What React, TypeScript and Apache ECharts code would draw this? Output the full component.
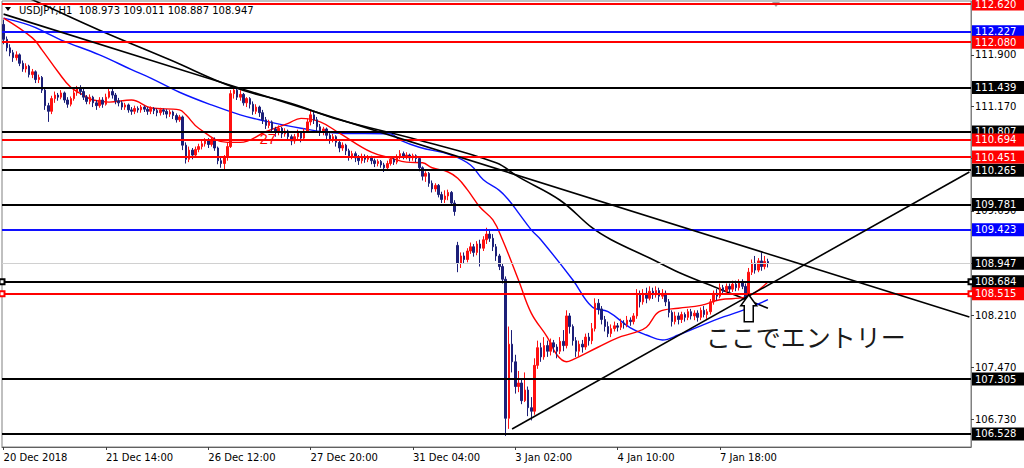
import React, { useEffect, useRef } from "react";
import * as echarts from "echarts";

type Candle = [number, number, number, number]; // open, close, low, high

const SYMBOL_TITLE = "USDJPY,H1  108.973 109.011 108.887 108.947";
const X_TICK_LABELS = ["20 Dec 2018", "21 Dec 14:00", "26 Dec 12:00", "27 Dec 20:00", "31 Dec 04:00", "3 Jan 02:00", "4 Jan 10:00", "7 Jan 18:00"];
const BARS_PER_LABEL = 32;
const TOTAL_SLOTS = 303;
const Y_MIN = 106.343;
const Y_MAX = 112.663;
const Y_TICKS = [111.9, 111.17, 110.43, 109.69, 108.95, 108.21, 107.47, 106.73];

const RED_LEVELS = [112.62, 112.08, 110.694, 110.451];
const BLUE_LEVELS = [112.227, 109.423];
const BLACK_LEVELS = [111.439, 110.807, 110.265, 109.781, 107.305, 106.528];
const SELECTED_BLACK_LEVELS = [108.684];
const SELECTED_RED_LEVELS = [108.515];
const BID = 108.947;

const ENTRY_TEXT = "ここでエントリー";
const ENTRY_POINT: [number, number] = [233, 108.5];
const NOTE_27 = "27";
const NOTE_27_POINT: [number, number] = [80, 110.71];

const BLOCK_20DEC: Candle[] = [
  [112.33,112.12,112.05,112.40],[112.12,112.00,111.95,112.16],[112.00,111.93,111.88,112.05],[111.93,111.86,111.80,111.97],
  [111.86,111.90,111.82,111.95],[111.90,111.78,111.74,111.92],[111.78,111.70,111.66,111.82],[111.70,111.74,111.65,111.78],
  [111.74,111.62,111.58,111.76],[111.62,111.66,111.57,111.70],[111.66,111.55,111.50,111.68],[111.55,111.58,111.50,111.62],
  [111.58,111.40,111.36,111.60],[111.40,111.18,111.12,111.42],[111.18,111.10,110.95,111.22],[111.10,111.28,111.06,111.32],
  [111.28,111.33,111.22,111.38],[111.33,111.30,111.25,111.36],[111.30,111.36,111.27,111.40],[111.36,111.26,111.22,111.38],
  [111.26,111.20,111.15,111.30],[111.20,111.28,111.17,111.31],[111.28,111.36,111.25,111.40],[111.36,111.42,111.32,111.46],
  [111.42,111.38,111.33,111.47],[111.38,111.30,111.26,111.42],[111.30,111.24,111.20,111.33],[111.24,111.30,111.20,111.34],
  [111.30,111.22,111.16,111.32],[111.22,111.18,111.12,111.26],[111.18,111.26,111.15,111.30],[111.26,111.20,111.15,111.30],
];
const BLOCK_21DEC: Candle[] = [
  [111.20,111.30,111.18,111.35],[111.30,111.38,111.28,111.44],[111.38,111.33,111.28,111.42],[111.33,111.25,111.20,111.36],
  [111.25,111.22,111.17,111.29],[111.22,111.16,111.12,111.25],[111.16,111.19,111.12,111.22],[111.19,111.12,111.08,111.21],
  [111.12,111.10,111.05,111.16],[111.10,111.14,111.06,111.18],[111.14,111.12,111.08,111.17],[111.12,111.16,111.08,111.19],
  [111.16,111.13,111.09,111.18],[111.13,111.10,111.05,111.16],[111.10,111.14,111.06,111.17],[111.14,111.11,111.06,111.16],
  [111.11,111.08,111.03,111.14],[111.08,111.12,111.04,111.15],[111.12,111.10,111.05,111.14],[111.10,111.06,111.00,111.13],
  [111.06,111.09,111.02,111.12],[111.09,111.04,110.99,111.11],[111.04,110.98,110.94,111.07],[110.98,111.02,110.95,111.05],
  [111.02,110.62,110.55,111.04],[110.62,110.42,110.36,110.66],[110.42,110.55,110.38,110.60],[110.55,110.48,110.42,110.58],
  [110.48,110.56,110.45,110.60],[110.56,110.60,110.52,110.64],[110.60,110.64,110.56,110.68],[110.64,110.68,110.60,110.72],
];
const BLOCK_26DEC: Candle[] = [
  [110.68,110.63,110.58,110.72],[110.63,110.70,110.60,110.74],[110.70,110.58,110.54,110.73],[110.58,110.40,110.35,110.60],
  [110.40,110.36,110.30,110.44],[110.36,110.45,110.28,110.48],[110.45,110.60,110.40,110.65],[110.60,111.35,110.58,111.40],
  [111.35,111.40,111.28,111.45],[111.40,111.30,111.26,111.44],[111.30,111.34,111.25,111.40],[111.34,111.22,111.18,111.36],
  [111.22,111.28,111.16,111.30],[111.28,111.20,111.14,111.30],[111.20,111.10,111.05,111.24],[111.10,111.16,111.06,111.20],
  [111.16,111.08,111.02,111.18],[111.08,110.98,110.92,111.12],[110.98,110.90,110.85,111.02],[110.90,110.95,110.86,110.98],
  [110.95,110.85,110.80,110.97],[110.85,110.80,110.74,110.88],[110.80,110.86,110.76,110.90],[110.86,110.78,110.72,110.88],
  [110.78,110.82,110.74,110.86],[110.82,110.74,110.70,110.84],[110.74,110.68,110.62,110.77],[110.68,110.74,110.64,110.78],
  [110.74,110.80,110.70,110.84],[110.80,110.72,110.66,110.82],[110.72,110.82,110.68,110.86],[110.82,110.95,110.80,111.00],
];
const BLOCK_27DEC: Candle[] = [
  [110.95,111.05,110.90,111.12],[111.05,110.98,110.92,111.10],[110.98,110.88,110.82,111.02],[110.88,110.80,110.75,110.92],
  [110.80,110.85,110.76,110.88],[110.85,110.76,110.70,110.87],[110.76,110.70,110.64,110.79],[110.70,110.74,110.66,110.78],
  [110.74,110.66,110.60,110.76],[110.66,110.58,110.52,110.70],[110.58,110.62,110.54,110.66],[110.62,110.54,110.48,110.64],
  [110.54,110.46,110.40,110.57],[110.46,110.50,110.42,110.54],[110.50,110.44,110.38,110.53],[110.44,110.40,110.34,110.48],
  [110.40,110.46,110.36,110.50],[110.46,110.42,110.37,110.49],[110.42,110.44,110.38,110.48],[110.44,110.40,110.35,110.47],
  [110.40,110.36,110.31,110.43],[110.36,110.39,110.32,110.42],[110.39,110.34,110.30,110.41],[110.34,110.30,110.24,110.37],
  [110.30,110.36,110.27,110.40],[110.36,110.42,110.33,110.46],[110.42,110.38,110.34,110.45],[110.38,110.45,110.35,110.49],
  [110.45,110.50,110.42,110.55],[110.50,110.46,110.42,110.53],[110.46,110.48,110.42,110.52],[110.48,110.44,110.39,110.50],
];
const BLOCK_31DEC: Candle[] = [
  [110.44,110.47,110.40,110.50],[110.47,110.43,110.38,110.49],[110.43,110.30,110.25,110.45],[110.30,110.18,110.12,110.32],
  [110.18,110.22,110.10,110.25],[110.22,110.08,110.03,110.24],[110.08,110.00,109.95,110.12],[110.00,110.05,109.96,110.08],
  [110.05,109.92,109.88,110.07],[109.92,109.85,109.80,109.96],[109.85,109.90,109.80,109.98],[109.90,109.95,109.84,109.99],
  [109.95,109.80,109.76,109.97],[109.80,109.68,109.62,109.84],[109.20,108.95,108.82,109.25],[108.95,109.05,108.88,109.10],
  [109.05,109.00,108.94,109.10],[109.00,109.12,108.96,109.16],[109.12,109.18,109.08,109.24],[109.18,109.10,109.04,109.22],
  [109.10,109.22,109.06,109.26],[109.22,109.16,108.90,109.28],[109.16,109.28,109.12,109.33],[109.28,109.36,109.22,109.45],
  [109.36,109.30,109.25,109.42],[109.30,109.18,109.12,109.36],[109.18,109.05,108.98,109.22],[109.05,108.90,108.85,109.08],
  [108.90,108.72,108.66,108.94],[108.72,106.75,106.50,108.76],[106.75,107.80,106.60,108.05],[107.80,107.55,107.40,108.00],
];
const BLOCK_3JAN: Candle[] = [
  [107.55,107.20,107.10,107.65],[107.20,107.25,107.12,107.42],[107.25,107.00,106.95,107.30],[107.00,107.15,106.98,107.40],
  [107.15,106.90,106.78,107.20],[106.90,106.85,106.72,107.05],[106.85,107.50,106.80,107.60],[107.50,107.75,107.45,107.85],
  [107.75,107.62,107.55,107.82],[107.62,107.78,107.58,107.90],[107.78,107.70,107.62,107.85],[107.70,107.82,107.64,107.88],
  [107.82,107.76,107.68,107.86],[107.76,107.70,107.60,107.80],[107.70,107.84,107.66,107.90],[107.84,107.78,107.70,108.00],
  [107.78,108.20,107.74,108.28],[108.20,108.05,107.95,108.24],[108.05,107.85,107.78,108.08],[107.85,107.70,107.62,107.90],
  [107.70,107.80,107.62,107.85],[107.80,107.76,107.68,107.86],[107.76,107.90,107.72,107.95],[107.90,107.85,107.78,107.96],
  [107.85,108.02,107.80,108.10],[108.02,108.38,107.98,108.45],[108.38,108.30,108.22,108.44],[108.30,108.15,108.08,108.34],
  [108.15,108.05,107.98,108.20],[108.05,107.95,107.90,108.12],[107.95,108.02,107.90,108.08],[108.02,108.06,107.98,108.12],
];
const BLOCK_4JAN: Candle[] = [
  [108.06,108.04,107.98,108.10],[108.04,108.10,108.00,108.16],[108.10,108.08,108.02,108.14],[108.08,108.14,108.04,108.20],
  [108.14,108.12,108.06,108.18],[108.12,108.20,108.08,108.24],[108.20,108.50,108.16,108.58],[108.50,108.40,108.32,108.56],
  [108.40,108.52,108.36,108.58],[108.52,108.45,108.38,108.60],[108.45,108.55,108.42,108.62],[108.55,108.50,108.44,108.60],
  [108.50,108.56,108.46,108.62],[108.56,108.48,108.40,108.60],[108.48,108.52,108.44,108.58],[108.52,108.40,108.34,108.56],
  [108.40,108.25,108.18,108.44],[108.25,108.12,108.05,108.28],[108.12,108.20,108.08,108.26],[108.20,108.15,108.08,108.25],
  [108.15,108.22,108.10,108.26],[108.22,108.18,108.12,108.25],[108.18,108.26,108.14,108.30],[108.26,108.20,108.15,108.30],
  [108.20,108.24,108.14,108.28],[108.24,108.18,108.12,108.28],[108.18,108.28,108.14,108.32],[108.28,108.22,108.18,108.34],
  [108.22,108.26,108.16,108.30],[108.26,108.40,108.22,108.44],[108.40,108.52,108.36,108.56],[108.52,108.48,108.42,108.58],
];
const BLOCK_7JAN: Candle[] = [
  [108.48,108.60,108.45,108.66],[108.60,108.55,108.50,108.64],[108.55,108.62,108.50,108.66],[108.62,108.58,108.52,108.66],
  [108.58,108.65,108.54,108.70],[108.65,108.60,108.55,108.70],[108.60,108.68,108.56,108.72],[108.68,108.62,108.58,108.72],
  [108.62,108.42,108.38,108.66],[108.42,108.82,108.40,108.88],[108.82,108.95,108.78,109.00],[108.95,108.85,108.80,109.05],
  [108.85,108.98,108.82,109.02],[108.98,108.90,108.84,109.10],[108.90,108.973,108.86,109.05],[108.973,108.947,108.887,109.011],
];

// moving averages, sampled points [barIndex, price]
const RED_MA: [number, number][] = [
  [0,112.42],[9,112.14],[12,111.97],[17,111.66],[21,111.44],[25,111.33],[28,111.26],[33,111.23],[40,111.26],[46,111.15],
  [55,111.12],[57,111.05],[61,110.86],[70,110.66],[74,110.66],[82,110.81],[89,110.93],[93,111.0],[99,110.95],[105,110.79],
  [115,110.52],[121,110.44],[126,110.38],[131,110.37],[134,110.30],[139,110.24],[142,110.15],[145,109.99],[149,109.74],
  [153,109.56],[156,109.28],[161,108.71],[165,108.24],[170,107.90],[173,107.65],[176,107.55],[178,107.58],[186,107.76],
  [192,107.89],[197,107.96],[201,108.04],[205,108.26],[211,108.31],[218,108.35],[224,108.43],[232,108.47],[239,108.68],
];
const BLUE_MA: [number, number][] = [
  [0,112.42],[8,112.32],[13,112.22],[18,112.11],[30,111.90],[40,111.69],[46,111.57],[55,111.37],[65,111.19],[74,111.05],
  [80,110.98],[93,110.86],[105,110.79],[121,110.78],[124,110.69],[130,110.59],[140,110.48],[146,110.34],[150,110.13],
  [155,109.98],[158,109.84],[161,109.66],[165,109.42],[168,109.28],[178,108.71],[184,108.33],[189,108.26],[196,108.03],
  [201,107.93],[206,107.86],[211,107.93],[218,108.06],[224,108.17],[230,108.26],[239,108.43],
];
const BLACK_MA: [number, number][] = [
  [0,112.85],[9,112.68],[30,112.25],[52,111.83],[72,111.44],[90,111.21],[105,110.98],[130,110.69],[154,110.37],[161,110.17],
  [174,109.84],[184,109.45],[190,109.28],[202,109.02],[211,108.82],[224,108.58],[239,108.31],
];
const DOWN_TRENDLINE: [number, number][] = [[0, 112.477], [302, 108.185]];
const UP_TRENDLINE: [number, number][] = [[159, 106.598], [302, 110.24]];

const CANDLES: Candle[] = [
  ...BLOCK_20DEC, ...BLOCK_21DEC, ...BLOCK_26DEC, ...BLOCK_27DEC,
  ...BLOCK_31DEC, ...BLOCK_3JAN, ...BLOCK_4JAN, ...BLOCK_7JAN,
];
const CATEGORIES = Array.from({ length: TOTAL_SLOTS }, (_, i) => String(i));

const FONT = "DejaVu Sans";
const BULL = "#ff1010";
const BEAR = "#1c1f78";

function levelItem(value: number, boxColor: string, lineColor: string, lineWidth = 2) {
  return {
    yAxis: value,
    lineStyle: { color: lineColor, width: lineWidth, type: "solid" },
    label: {
      show: true,
      position: "end",
      distance: 1,
      formatter: value.toFixed(3),
      color: "#ffffff",
      backgroundColor: boxColor,
      padding: [1, 12, 1, 3],
      fontFamily: FONT,
      fontSize: 10,
      lineHeight: 11,
    },
  };
}

export default function App() {
  const ref = useRef<HTMLDivElement>(null);
  useEffect(() => {
    if (!ref.current) return;
    const chart = echarts.init(ref.current, null, { renderer: "svg" });
    const levelData = [
      ...BLACK_LEVELS.map((v) => levelItem(v, "#000000", "#000000")),
      ...BLUE_LEVELS.map((v) => levelItem(v, "#0000ff", "#1010ff")),
      ...RED_LEVELS.map((v) => levelItem(v, "#ff0000", "#ff0000")),
      levelItem(BID, "#000000", "#d0d0d0", 1),
    ];
    const selectedData = [
      ...SELECTED_BLACK_LEVELS.map((v) => levelItem(v, "#000000", "#000000")),
      ...SELECTED_RED_LEVELS.map((v) => levelItem(v, "#ff0000", "#ff0000")),
    ];
    const option: any = {
      animation: false,
      backgroundColor: "#ffffff",
      grid: { left: 2, right: 53, top: 1, bottom: 21, show: true, borderColor: "#808080", borderWidth: 1, backgroundColor: "#ffffff" },
      xAxis: {
        type: "category",
        data: CATEGORIES,
        boundaryGap: true,
        axisLine: { show: true, lineStyle: { color: "#606060", width: 1 } },
        axisTick: {
          show: true,
          alignWithLabel: true,
          length: 3,
          lineStyle: { color: "#404040" },
          interval: (i: number) => i % BARS_PER_LABEL === 0 && i / BARS_PER_LABEL < X_TICK_LABELS.length,
        },
        axisLabel: {
          show: true,
          interval: (i: number) => i % BARS_PER_LABEL === 0 && i / BARS_PER_LABEL < X_TICK_LABELS.length,
          formatter: (_v: string, i: number) => X_TICK_LABELS[i / BARS_PER_LABEL] ?? "",
          align: "left",
          margin: 5,
          color: "#000000",
          fontFamily: FONT,
          fontSize: 10,
        },
        splitLine: { show: false },
      },
      yAxis: {
        type: "value",
        position: "right",
        min: Y_MIN,
        max: Y_MAX,
        scale: true,
        splitLine: { show: false },
        axisLine: { show: true, lineStyle: { color: "#808080" } },
        axisTick: { show: true, length: 3, customValues: Y_TICKS, lineStyle: { color: "#404040" } },
        axisLabel: {
          show: true,
          customValues: Y_TICKS,
          formatter: (v: number) => v.toFixed(3),
          margin: 4,
          color: "#000000",
          fontFamily: FONT,
          fontSize: 10,
        },
      },
      series: [
        {
          type: "line", data: BLACK_MA, smooth: 0.4, showSymbol: false, z: 3,
          lineStyle: { color: "#000000", width: 1.6 },
        },
        {
          type: "line", data: BLUE_MA, smooth: 0.4, showSymbol: false, z: 3,
          lineStyle: { color: "#0a14ff", width: 1.4 },
        },
        {
          type: "line", data: RED_MA, smooth: 0.4, showSymbol: false, z: 3,
          lineStyle: { color: "#ff0000", width: 1.4 },
        },
        {
          type: "candlestick",
          data: CANDLES,
          barWidth: 2,
          z: 4,
          itemStyle: { color: BULL, color0: BEAR, borderColor: BULL, borderColor0: BEAR, borderWidth: 1 },
        },
        {
          type: "line", data: DOWN_TRENDLINE, showSymbol: false, z: 5,
          lineStyle: { color: "#000000", width: 1.6 },
        },
        {
          type: "line", data: UP_TRENDLINE, showSymbol: false, z: 5,
          lineStyle: { color: "#000000", width: 1.6 },
        },
        {
          type: "line",
          data: [],
          z: 6,
          markLine: { silent: true, animation: false, symbol: ["none", "none"], precision: 3, data: levelData },
        },
        {
          type: "line",
          data: [],
          z: 7,
          markLine: {
            silent: true, animation: false, symbol: ["emptyRect", "emptyRect"], symbolSize: 5,
            precision: 3, data: selectedData,
          },
        },
      ],
    };
    chart.setOption(option);

    const tip = chart.convertToPixel({ gridIndex: 0 }, ENTRY_POINT) as number[];
    const n27 = chart.convertToPixel({ gridIndex: 0 }, NOTE_27_POINT) as number[];
    const tx = tip[0];
    const ty = tip[1];
    chart.setOption({
      graphic: [
        {
          type: "polygon",
          shape: { points: [[5, 7], [11, 7], [8, 11]] },
          style: { fill: "#000000" },
        },
        {
          type: "text",
          x: 19,
          y: 10,
          style: { text: SYMBOL_TITLE, fill: "#000000", font: `10px '${FONT}'`, textVerticalAlign: "middle" },
        },
        {
          type: "polygon",
          shape: { points: [[772, 2], [780, 2], [776, 7]] },
          style: { fill: "#a0a0a0" },
        },
        {
          type: "polygon",
          z: 100,
          shape: {
            points: [
              [tx, ty], [tx + 8, ty + 11], [tx + 4.5, ty + 11], [tx + 4.5, ty + 27],
              [tx - 4.5, ty + 27], [tx - 4.5, ty + 11], [tx - 8, ty + 11],
            ],
          },
          style: { fill: "#ffffff", stroke: "#000000", lineWidth: 1.5 },
        },
        {
          type: "text",
          z: 100,
          x: tx - 43,
          y: ty + 41,
          style: {
            text: ENTRY_TEXT,
            fill: "#1a1a1a",
            font: "25px 'Noto Sans CJK JP'",
            textVerticalAlign: "middle",
          },
        },
        {
          type: "text",
          z: 100,
          x: n27[0],
          y: n27[1],
          style: { text: NOTE_27, fill: "#ff0000", font: "15px 'Liberation Sans'", textVerticalAlign: "middle" },
        },
      ],
    });
    return () => chart.dispose();
  }, []);
  return <div ref={ref} style={{ position: "absolute", left: 0, top: 0, width: 1024, height: 468 }} />;
}
